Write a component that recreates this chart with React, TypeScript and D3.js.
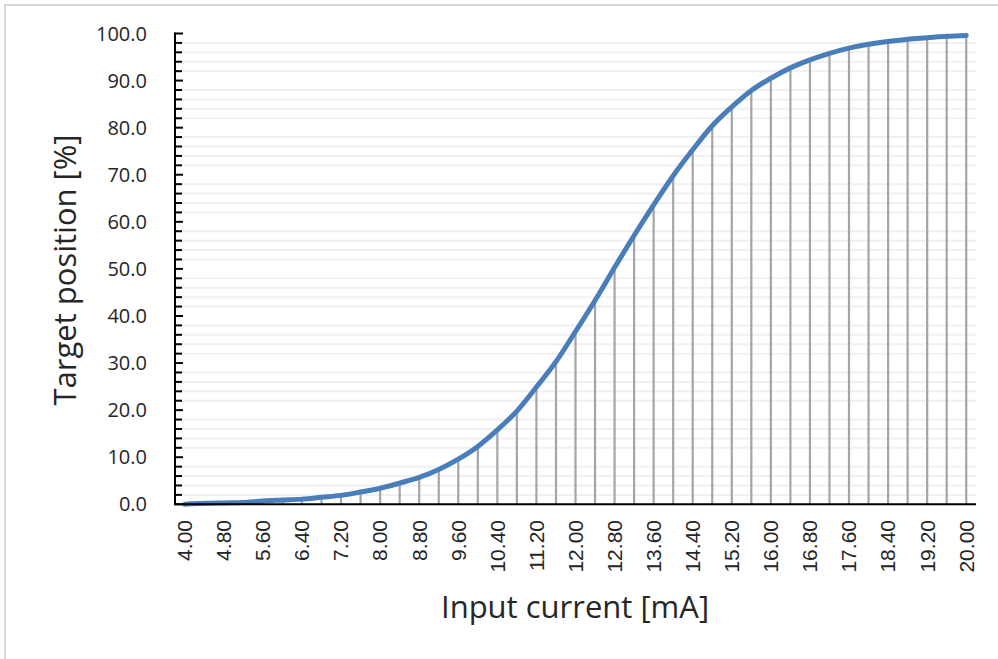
import React from "react";
import * as d3 from "d3";

const currents: number[] = d3.range(0, 41).map((i) => +(4 + i * 0.4).toFixed(2));
const positions: number[] = [
  0.0, 0.2, 0.3, 0.4, 0.7, 0.9, 1.1, 1.5, 1.9, 2.6,
  3.4, 4.5, 5.7, 7.4, 9.6, 12.3, 15.8, 19.8, 24.9, 30.3,
  36.7, 43.3, 50.3, 57.1, 63.6, 69.8, 75.3, 80.4, 84.4, 87.9,
  90.5, 92.7, 94.4, 95.8, 96.9, 97.7, 98.3, 98.8, 99.1, 99.4, 99.6,
];
const yTicks: number[] = [0, 10, 20, 30, 40, 50, 60, 70, 80, 90, 100];
const yMinor: number[] = d3.range(0, 101, 2);
const xTitle = "Input current [mA]";
const yTitle = "Target position [%]";

const W = 998;
const H = 659;
const left = 175;
const right = 976;
const top = 33.5;
const bottom = 504.3;

export default function App() {
  const cats = currents.map((c) => c.toFixed(2));
  const x = d3.scalePoint<string>().domain(cats).range([left, right]).padding(0.5);
  const y = d3.scaleLinear().domain([0, 100]).range([bottom, top]);
  const line = d3
    .line<number>()
    .x((_, i) => x(cats[i]) as number)
    .y((d) => y(d))
    .curve(d3.curveMonotoneX);

  return (
    <svg
      width={W}
      height={H}
      style={{ position: "absolute", left: 0, top: 0, background: "#fff" }}
    >
      <rect x={0} y={0} width={W} height={H} fill="#fff" />
      <rect x={5} y={5} width={W + 10} height={H + 10} fill="none" stroke="#d9d9d9" strokeWidth={2} />
      {/* minor gridlines */}
      {yMinor
        .filter((v) => v % 10 !== 0)
        .map((v) => (
          <line key={"g" + v} x1={left} x2={right} y1={y(v)} y2={y(v)} stroke="#f0f0f0" strokeWidth={2} />
        ))}
      {/* drop lines */}
      {positions.map((v, i) => (
        <line
          key={"d" + i}
          x1={x(cats[i])}
          x2={x(cats[i])}
          y1={y(0)}
          y2={y(v)}
          stroke="#a5a5a5"
          strokeWidth={2.2}
        />
      ))}
      {/* series line */}
      <path
        d={line(positions) || ""}
        fill="none"
        stroke="#4a7ebb"
        strokeWidth={5}
        strokeLinecap="round"
        strokeLinejoin="round"
      />
      {/* y axis */}
      <line x1={left} x2={left} y1={top - 1} y2={bottom + 1} stroke="#000" strokeWidth={2} />
      {yMinor.map((v) => (
        <line
          key={"t" + v}
          x1={left}
          x2={left + (v % 10 === 0 ? 8 : 7)}
          y1={y(v)}
          y2={y(v)}
          stroke="#000"
          strokeWidth={2}
        />
      ))}
      {yTicks.map((v) => (
        <text
          key={"yl" + v}
          x={147}
          y={y(v)}
          dy="0.35em"
          textAnchor="end"
          fontFamily="'Open Sans', 'Noto Sans', sans-serif"
          fontSize={20}
          fill="#262626"
        >
          {v.toFixed(1)}
        </text>
      ))}
      {/* x axis */}
      <line x1={left} x2={right} y1={bottom} y2={bottom} stroke="#000" strokeWidth={2} />
      {cats.map((c, i) =>
        i % 2 === 0 ? (
          <text
            key={"xl" + c}
            transform={`translate(${x(c)},${520}) rotate(-90)`}
            dy="0.35em"
            textAnchor="end"
            fontFamily="'Liberation Sans', Arial, sans-serif"
            fontSize={21}
            fill="#262626"
          >
            {c}
          </text>
        ) : null
      )}
      {/* titles */}
      <text
        x={575}
        y={618}
        textAnchor="middle"
        fontFamily="'Open Sans', 'Noto Sans', sans-serif"
        fontSize={31}
        fill="#262626"
      >
        {xTitle}
      </text>
      <text
        transform={`translate(76,270) rotate(-90)`}
        textAnchor="middle"
        fontFamily="'Open Sans', 'Noto Sans', sans-serif"
        fontSize={31}
        fill="#262626"
      >
        {yTitle}
      </text>
    </svg>
  );
}
